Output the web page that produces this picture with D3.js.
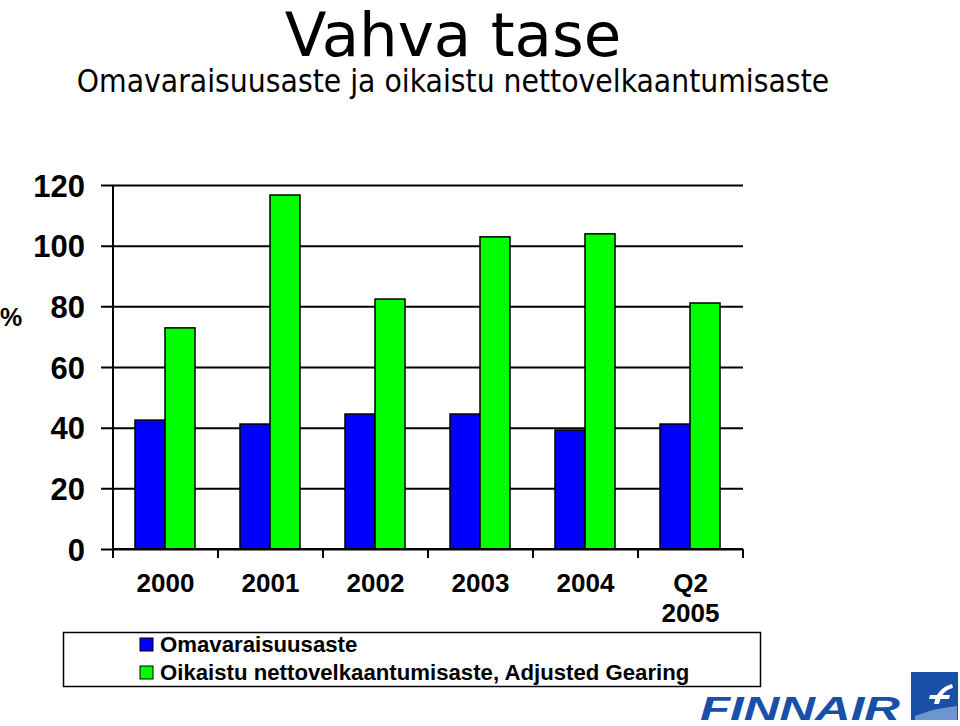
<!DOCTYPE html>
<html><head><meta charset="utf-8">
<script src="https://cdn.jsdelivr.net/npm/d3@7"></script>
<style>body{margin:0;background:#fff}svg{display:block}</style>
</head><body>
<script>
const categories = [["2000"],["2001"],["2002"],["2003"],["2004"],["Q2","2005"]];
const catKeys = ["2000","2001","2002","2003","2004","Q2 2005"];
const equityRatio = [42.5, 41.2, 44.5, 44.5, 39.2, 41.2];
const adjustedGearing = [72.9, 116.7, 82.4, 102.9, 103.9, 81.1];
const seriesNames = ["Omavaraisuusaste", "Oikaistu nettovelkaantumisaste, Adjusted Gearing"];
const seriesColors = ["#0000ff", "#00ff00"];
const yTicks = [0, 20, 40, 60, 80, 100, 120];

(function () {
const W = 960, H = 726;
const svg = d3.select("body").append("svg").attr("width", W).attr("height", H);
const pL = 113, pR = 743, pT = 185, pB = 549;

svg.append("text").attr("x", 453).attr("y", 56).attr("text-anchor", "middle")
  .attr("font-family", "DejaVu Sans").attr("font-size", 61).text("Vahva tase");
svg.append("text").attr("x", 453).attr("y", 92).attr("text-anchor", "middle")
  .attr("font-family", "DejaVu Sans Condensed, DejaVu Sans").attr("font-size", 31.5).text("Omavaraisuusaste ja oikaistu nettovelkaantumisaste");

const x = d3.scaleBand().domain(catKeys).range([pL, pR]).paddingInner(0).paddingOuter(0);
const y = d3.scaleLinear().domain([0, 120]).range([pB, pT]);
const xs = d3.scaleBand().domain([0, 1]).range([22, x.bandwidth() - 23]);

const yAxis = d3.axisLeft(y).tickValues(yTicks).tickSize(-(pR - pL)).tickPadding(28).tickSizeOuter(0);
const gy = svg.append("g").attr("transform", `translate(${pL},0)`).call(yAxis);
gy.select(".domain").remove();
gy.selectAll(".tick line").attr("x1", -12).attr("stroke", "#000").attr("stroke-width", 2);
gy.selectAll(".tick text").attr("font-family", "Liberation Sans, Arial").attr("font-weight", "bold")
  .attr("font-size", 31).attr("fill", "#000").attr("dy", "0.36em");
svg.append("line").attr("x1", pL).attr("x2", pL).attr("y1", pT).attr("y2", pB)
  .attr("stroke", "#000").attr("stroke-width", 2);

svg.append("text").attr("x", 0).attr("y", 326).attr("font-family", "Liberation Sans, Arial")
  .attr("font-weight", "bold").attr("font-size", 25).text("%");

const data = catKeys.map((k, i) => ({k, v: [equityRatio[i], adjustedGearing[i]]}));
const groups = svg.append("g").selectAll("g").data(data).join("g")
  .attr("transform", d => `translate(${x(d.k)},0)`);
groups.selectAll("rect").data(d => d.v.map((v, j) => ({v, j}))).join("rect")
  .attr("x", d => xs(d.j)).attr("width", xs.bandwidth())
  .attr("y", d => y(d.v)).attr("height", d => y(0) - y(d.v))
  .attr("fill", d => seriesColors[d.j]).attr("stroke", "#000").attr("stroke-width", 1.5);

const xAxis = d3.axisBottom(x).tickSize(0).tickFormat("");
const gx = svg.append("g").attr("transform", `translate(0,${pB})`).call(xAxis);
gx.select(".domain").attr("stroke", "#000").attr("stroke-width", 2).attr("d", `M${pL},0H${pR}`);
const bounds = catKeys.map(k => x(k)).concat([pR]);
svg.append("g").selectAll("line").data(bounds).join("line")
  .attr("x1", d => d).attr("x2", d => d).attr("y1", pB).attr("y2", pB + 9)
  .attr("stroke", "#000").attr("stroke-width", 2);
const lbl = svg.append("g").selectAll("text").data(catKeys).join("text")
  .attr("y", 592)
  .attr("text-anchor", "middle").attr("font-family", "Liberation Sans, Arial")
  .attr("font-weight", "bold").attr("font-size", 26);
lbl.each(function(d, i) {
  const t = d3.select(this);
  categories[i].forEach((line, li) => t.append("tspan").attr("x", x(d) + x.bandwidth() / 2).attr("dy", li ? 30 : 0).text(line));
});

svg.append("rect").attr("x", 63.5).attr("y", 632.5).attr("width", 697).attr("height", 54)
  .attr("fill", "#fff").attr("stroke", "#000").attr("stroke-width", 1.5);
const leg = svg.append("g").selectAll("g").data(seriesNames).join("g")
  .attr("transform", (d, i) => `translate(140,${638 + i * 28})`);
leg.append("rect").attr("width", 13).attr("height", 13).attr("fill", (d, i) => seriesColors[i])
  .attr("stroke", "#000").attr("stroke-width", 1);
leg.append("text").attr("x", 20).attr("y", 14).attr("font-family", "Liberation Sans, Arial")
  .attr("font-weight", "bold").attr("font-size", 22.2).text(d => d);

svg.append("text").attr("x", 700).attr("y", 720).attr("font-family", "Liberation Sans, Arial")
  .attr("font-weight", "bold").attr("font-style", "italic").attr("font-size", 34)
  .attr("fill", "#1a4fa8").attr("textLength", 200).attr("lengthAdjust", "spacingAndGlyphs").text("FINNAIR");
svg.append("rect").attr("x", 911).attr("y", 672).attr("width", 47).attr("height", 48).attr("fill", "#1a4fa8");
svg.append("path").attr("d", "M915,716 Q935,708 957,706 L957,720 L915,720 Z").attr("fill", "#6f95d0");
svg.append("path").attr("d", "M934,704 Q937,688 952,684 L953,688 Q942,690 939,704 Z M930,695 L950,695 L949,699 L929,699 Z").attr("fill", "#fff");
})();
</script>
</body></html>
